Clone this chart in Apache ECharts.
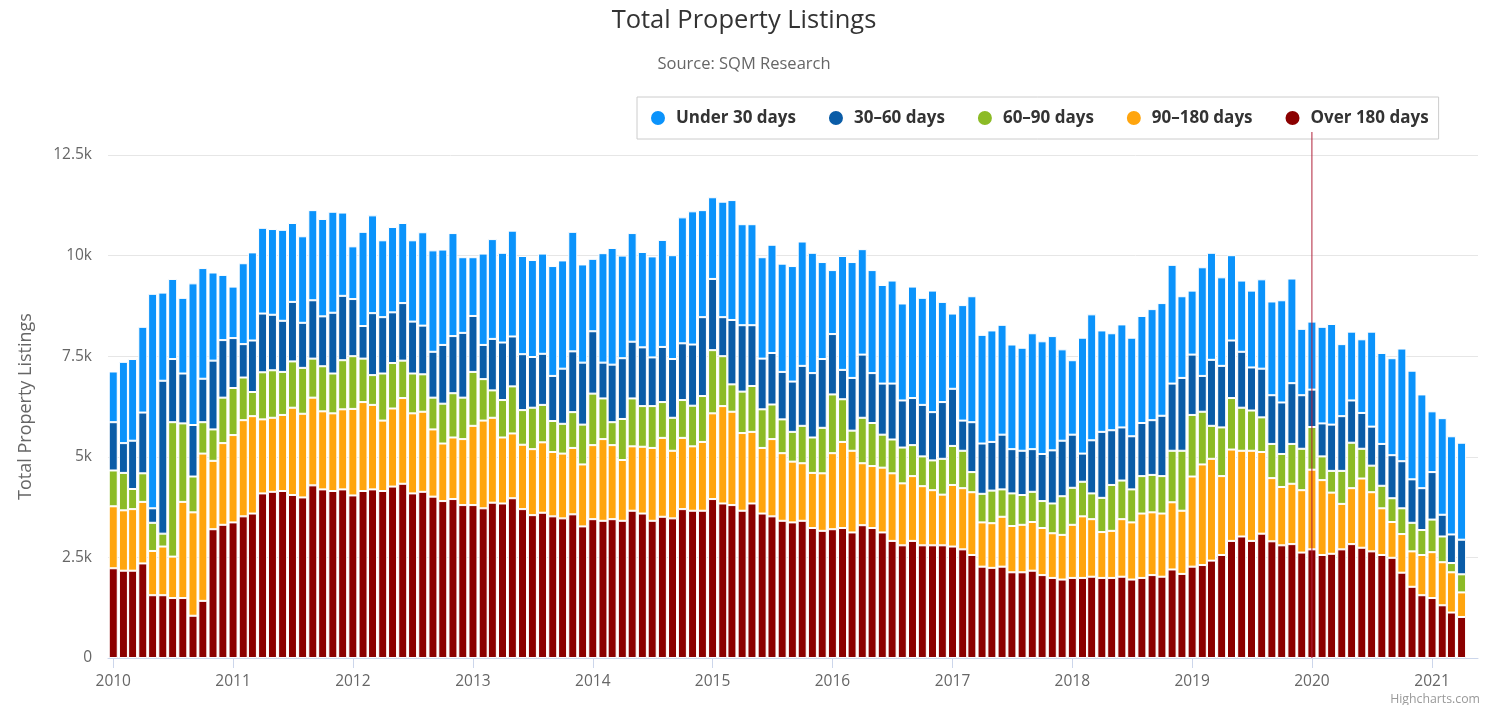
<!DOCTYPE html>
<html>
<head>
<meta charset="utf-8">
<script src="https://cdn.jsdelivr.net/npm/echarts@6/dist/echarts.min.js"></script>
<style>
  html, body { margin: 0; padding: 0; background: #ffffff; }
  #chart { width: 1499px; height: 705px; }
</style>
</head>
<body>
<div id="chart"></div>
<script>
const months = [
  '2010-01','2010-02','2010-03','2010-04','2010-05','2010-06','2010-07','2010-08','2010-09','2010-10','2010-11','2010-12',
  '2011-01','2011-02','2011-03','2011-04','2011-05','2011-06','2011-07','2011-08','2011-09','2011-10','2011-11','2011-12',
  '2012-01','2012-02','2012-03','2012-04','2012-05','2012-06','2012-07','2012-08','2012-09','2012-10','2012-11','2012-12',
  '2013-01','2013-02','2013-03','2013-04','2013-05','2013-06','2013-07','2013-08','2013-09','2013-10','2013-11','2013-12',
  '2014-01','2014-02','2014-03','2014-04','2014-05','2014-06','2014-07','2014-08','2014-09','2014-10','2014-11','2014-12',
  '2015-01','2015-02','2015-03','2015-04','2015-05','2015-06','2015-07','2015-08','2015-09','2015-10','2015-11','2015-12',
  '2016-01','2016-02','2016-03','2016-04','2016-05','2016-06','2016-07','2016-08','2016-09','2016-10','2016-11','2016-12',
  '2017-01','2017-02','2017-03','2017-04','2017-05','2017-06','2017-07','2017-08','2017-09','2017-10','2017-11','2017-12',
  '2018-01','2018-02','2018-03','2018-04','2018-05','2018-06','2018-07','2018-08','2018-09','2018-10','2018-11','2018-12',
  '2019-01','2019-02','2019-03','2019-04','2019-05','2019-06','2019-07','2019-08','2019-09','2019-10','2019-11','2019-12',
  '2020-01','2020-02','2020-03','2020-04','2020-05','2020-06','2020-07','2020-08','2020-09','2020-10','2020-11','2020-12',
  '2021-01','2021-02','2021-03','2021-04'
];

const under30 = [
  1260,2020,2030,2130,5330,2190,1990,1880,3520,2750,2190,1620,
  1280,2010,2190,2130,2130,2260,1960,2150,2240,2420,2510,2070,
  1310,2340,2430,1910,2120,1990,2020,2320,2520,2370,2560,1880,
  1460,2270,2480,2230,2630,2440,2410,2490,2730,2690,2970,2440,
  1800,2720,2900,2550,2700,2370,2510,2660,2580,3130,3310,2660,
  2030,2870,2980,2510,2510,2520,2690,2690,2870,3090,2990,2410,
  1590,2830,2880,2620,2560,2450,2560,2410,2770,2660,3020,2490,
  1870,2870,3130,2700,2770,2730,2600,2560,2880,2800,2840,2270,
  1850,2880,3130,2520,2410,2560,2450,2660,2760,2800,2950,2030,
  1590,2700,2660,2200,2120,1770,1910,2220,2330,2540,2600,1650,
  1690,2400,2500,1790,1710,1830,2360,2260,2410,2800,2700,2330,
  1510,2400,2440,2410
];
const days30to60 = [
  1200,740,1200,1510,360,3800,1570,1240,1280,1080,1710,1430,
  1240,830,1280,1460,1380,1270,1480,1120,1450,1240,1510,1600,
  1420,810,1540,1400,1260,1430,1290,1210,1140,1460,1420,1610,
  1390,850,1280,1430,1240,1390,1260,1270,1120,1370,1510,1540,
  1550,890,1430,1510,1410,1460,1210,1370,1460,1410,1520,1960,
  1770,970,1600,1650,1510,1260,1280,1180,1250,1490,1600,1710,
  1500,730,1310,1570,1240,1270,1390,1170,1170,1280,1200,1410,
  1420,750,1240,1250,1210,1360,1100,1100,1060,1170,1320,1380,
  1320,700,1320,1640,1360,1320,1320,1320,1360,1500,1670,1810,
  1500,890,1640,1530,1430,1390,1070,1210,1210,1280,1510,1330,
  930,820,1150,1360,1050,890,970,1040,1070,1170,1080,1040,
  1180,540,710,860
];
const days60to90 = [
  890,930,500,710,700,320,3340,1950,890,780,780,1130,
  1170,1060,600,1170,1180,1070,1150,1140,970,1120,990,1220,
  1310,1080,740,1170,1130,930,990,930,790,990,1100,1030,
  1340,1030,680,930,1170,860,1030,930,770,740,890,990,
  1280,1010,570,1020,1190,1010,1040,890,820,940,1010,1140,
  1570,1240,680,1030,1140,960,860,840,740,930,880,1130,
  1460,1060,500,1130,1070,820,840,890,770,740,740,890,
  970,930,500,710,810,680,810,740,750,670,740,960,
  920,860,640,850,1140,960,820,930,930,930,1280,1490,
  1530,1310,820,1210,1280,1070,1000,860,850,820,990,1030,
  1060,590,540,820,1130,740,660,560,590,640,710,620,
  810,640,230,450
];
const days90to180 = [
  1540,1500,1530,1530,1100,1210,1030,2390,2570,3660,1700,2030,
  2170,2390,2420,1840,1840,1890,2170,2080,2180,1940,1930,1990,
  2150,2210,2100,1750,1940,2130,1990,1990,1670,1430,1530,1640,
  1970,2180,2110,1640,1610,1600,1640,1750,1600,1610,1650,1540,
  1840,2030,1840,1510,1600,1660,1810,1960,1680,1770,1600,1710,
  2130,2420,2320,1930,1780,1630,1920,1680,1510,1430,1370,1430,
  1890,2140,2030,1540,1540,1610,1680,1540,1610,1470,1370,1260,
  1530,1520,1560,1100,1110,1240,1150,1180,1210,1170,1110,1110,
  1320,1530,1430,1140,1170,1430,1420,1600,1560,1570,1670,1570,
  2240,2500,2530,1960,2270,2130,2240,2030,1570,1450,1500,1550,
  1980,1860,1520,1130,1390,1720,1470,1160,890,960,880,1000,
  1140,1070,1000,610
];
const over180 = [
  2230,2170,2170,2350,1560,1560,1490,1490,1050,1420,3200,3310,
  3370,3520,3590,4090,4130,4150,4050,3990,4290,4190,4150,4190,
  4040,4150,4190,4150,4260,4330,4090,4130,4010,3900,3950,3800,
  3800,3720,3860,3840,3970,3700,3550,3610,3520,3470,3570,3270,
  3450,3410,3450,3410,3660,3590,3410,3510,3470,3700,3660,3660,
  3950,3840,3800,3660,3840,3590,3520,3410,3370,3410,3230,3160,
  3200,3230,3120,3300,3230,3120,2910,2800,2910,2800,2800,2800,
  2770,2700,2560,2270,2240,2270,2130,2130,2170,2060,1990,1950,
  1990,1990,2020,1990,1990,2020,1950,1990,2060,2020,2200,2090,
  2270,2310,2420,2560,2910,3020,2910,3090,2900,2800,2830,2620,
  2700,2560,2590,2700,2830,2740,2650,2560,2490,2120,1770,1560,
  1490,1310,1130,1020
];

const yearTicks = ['2010','2011','2012','2013','2014','2015','2016','2017','2018','2019','2020','2021'];
const plotLineDate = '2020-01';
const seriesNames = ['Under 30 days', '30–60 days', '60–90 days', '90–180 days', 'Over 180 days'];
const seriesColors = ['#0b93fb', '#0a5ca7', '#8cbb26', '#ffa50e', '#8b0000'];

const FONT = '"Open Sans", "DejaVu Sans", sans-serif';
const toTime = s => echarts.time.parse(s).getTime();
const xMin = toTime('2009-12-16');
const xMax = toTime('2021-05-21');
const yearTickValues = yearTicks.map(y => toTime(y + '-01-01'));
const plotLineTime = toTime(plotLineDate);

function barSeries(name, values, color) {
  return {
    name: name,
    type: 'bar',
    stack: 'listings',
    xAxisIndex: 0,
    yAxisIndex: 0,
    barWidth: 9,
    encode: { x: 1, y: 0 },
    itemStyle: { color: color, borderColor: '#ffffff', borderWidth: 1 },
    emphasis: { disabled: true },
    data: months.map((m, i) => [values[i], toTime(m)])
  };
}

const chart = echarts.init(document.getElementById('chart'), null, { renderer: 'canvas' });
chart.setOption({
  animation: false,
  backgroundColor: '#ffffff',
  title: [
    {
      text: 'Total Property Listings',
      subtext: 'Source: SQM Research',
      left: 739,
      textAlign: 'center',
      top: 3,
      itemGap: 22,
      textStyle: { fontFamily: FONT, fontSize: 25.5, fontWeight: 'normal', color: '#333333' },
      subtextStyle: { fontFamily: FONT, fontSize: 16.5, color: '#666666' }
    },
    {
      text: 'Highcharts.com',
      right: 19,
      bottom: 0,
      padding: 0,
      textStyle: { fontFamily: FONT, fontSize: 12.3, fontWeight: 'normal', color: '#999999' }
    }
  ],
  legend: {
    data: seriesNames,
    left: 637,
    top: 97,
    orient: 'horizontal',
    icon: 'circle',
    itemWidth: 26,
    itemHeight: 16,
    itemGap: 31,
    padding: [12, 10, 12, 12],
    borderColor: '#cccccc',
    borderWidth: 1,
    selectedMode: false,
    textStyle: { fontFamily: FONT, fontSize: 17, fontWeight: 'bold', color: '#333333' }
  },
  grid: [
    { left: 108, right: 21, top: 155, bottom: 47 },
    { left: 108, right: 21, top: 132, bottom: 47 }
  ],
  xAxis: [
    {
      type: 'value',
      gridIndex: 0,
      min: xMin,
      max: xMax,
      axisLine: { show: true, lineStyle: { color: '#ccd6eb', width: 1 } },
      axisTick: { show: true, length: 10, lineStyle: { color: '#ccd6eb' }, customValues: yearTickValues },
      axisLabel: {
        customValues: yearTickValues,
        formatter: v => String(new Date(v).getFullYear()),
        color: '#666666',
        fontFamily: FONT,
        fontSize: 15.5,
        margin: 16
      },
      splitLine: { show: false }
    },
    {
      type: 'value',
      gridIndex: 1,
      min: xMin,
      max: xMax,
      show: false
    }
  ],
  yAxis: [
    {
      type: 'value',
      gridIndex: 0,
      min: 0,
      max: 12500,
      interval: 2500,
      name: 'Total Property Listings',
      nameLocation: 'middle',
      nameRotate: 90,
      nameGap: 73,
      nameTextStyle: { fontFamily: FONT, fontSize: 18, color: '#666666' },
      axisLine: { show: false },
      axisTick: { show: false },
      axisLabel: {
        formatter: v => (v === 0 ? '0' : (v / 1000) + 'k'),
        color: '#666666',
        fontFamily: FONT,
        fontSize: 15.5,
        margin: 16
      },
      splitLine: { show: true, lineStyle: { color: '#e6e6e6', width: 1 } }
    },
    {
      type: 'value',
      gridIndex: 1,
      min: 0,
      max: 1,
      show: false
    }
  ],
  series: [
    barSeries(seriesNames[4], over180, seriesColors[4]),
    barSeries(seriesNames[3], days90to180, seriesColors[3]),
    barSeries(seriesNames[2], days60to90, seriesColors[2]),
    barSeries(seriesNames[1], days30to60, seriesColors[1]),
    barSeries(seriesNames[0], under30, seriesColors[0]),
    {
      name: 'plotLine',
      type: 'line',
      xAxisIndex: 1,
      yAxisIndex: 1,
      z: 10,
      symbol: 'none',
      silent: true,
      lineStyle: { color: '#b0203a', width: 1 },
      data: [[plotLineTime, 0], [plotLineTime, 1]]
    }
  ]
});
</script>
</body>
</html>
